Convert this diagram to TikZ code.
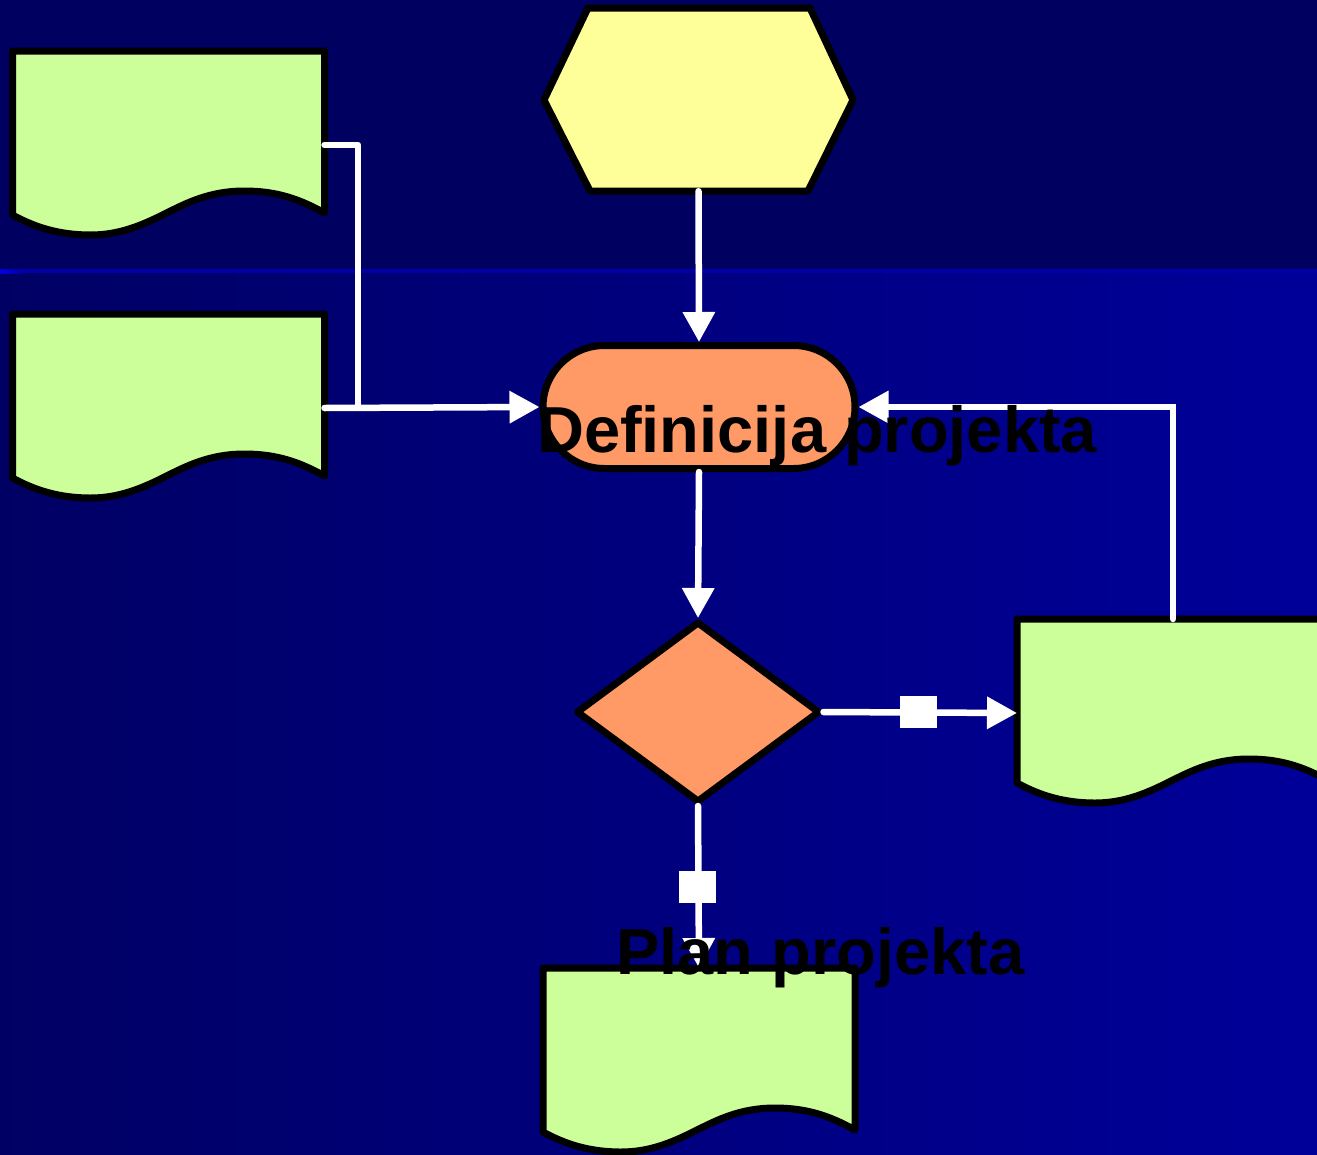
\documentclass[tikz,border=0pt]{standalone}
\usepackage{fontspec}
\setmainfont{Liberation Sans}
\usetikzlibrary{arrows.meta,shapes.geometric,shapes.misc}
\definecolor{bgtop}{HTML}{000060}
\definecolor{bgleft}{HTML}{000064}
\definecolor{bgright}{HTML}{000099}
\definecolor{bandline}{HTML}{0000A6}
\definecolor{docgreen}{HTML}{CCFF99}
\definecolor{hexyellow}{HTML}{FFFF99}
\definecolor{salmon}{HTML}{FF9966}
\tikzset{
  shapeline/.style={draw=black, line width=7pt, line join=round},
  docanchor/.style={inner sep=0pt, outer sep=0pt, minimum width=312pt, minimum height=188pt, anchor=north west},
  conn/.style={draw=white, line width=6.5pt, line cap=round},
  arr/.style={-{Triangle[length=30pt,width=31pt]}},
  marker/.style={fill=white, draw=none, inner sep=0pt, minimum width=37pt, minimum height=32pt},
  lbl/.style={inner sep=0pt, anchor=base west, font=\bfseries\fontsize{65}{70}\selectfont, text=black}
}
\newcommand{\docshape}[1]{%
  \path[shapeline, fill=docgreen, shift={(#1.north west)}]
    (0,0) -- (312,0) -- (312,162)
    .. controls (287,148) and (264,140) .. (232,140)
    .. controls (197,140) and (174,152) .. (152,163)
    .. controls (128,175) and (106,184) .. (78,184)
    .. controls (46,184) and (22,176) .. (0,164) -- cycle;}
\begin{document}
\begin{tikzpicture}[x=1pt,y=-1pt]
\clip (0,0) rectangle (1317,1154);
% background
\fill[bgtop] (0,0) rectangle (1317,270);
\fill[left color=bgleft, right color=bgright] (0,273) rectangle (1317,1154);
\fill[bandline] (0,269) rectangle (1317,273);
\fill[left color=blue!60!bandline, right color=bandline] (0,269) rectangle (22,273);

% anchor nodes
\node[docanchor] (d1) at (12.5,51) {};
\node[docanchor] (d2) at (12.5,314) {};
\node[docanchor] (d3) at (1017,619) {};
\node[docanchor] (d4) at (543,968) {};
\node[inner sep=0pt, minimum width=309pt, minimum height=183pt] (hex) at (698.5,99.5) {};

% shapes
\docshape{d1}
\docshape{d2}
\docshape{d3}
\docshape{d4}
\path[shapeline, fill=hexyellow] (588,8) -- (810,8) -- (853,100) -- (808,191) -- (590,191) -- (544,100) -- cycle;
\node[rounded rectangle, shapeline, fill=salmon, inner sep=0pt, minimum width=312pt, minimum height=123pt] (term) at (699,407) {};
\node[diamond, shapeline, fill=salmon, inner sep=0pt, minimum width=244pt, minimum height=181pt] (dia) at (698,712) {};

% connectors
\coordinate (jn) at (358,407);
\draw[conn, arr] (hex.south) -- (term.north);
\draw[conn, line join=round] (d1.east) -| (jn);
\draw[conn, arr] (d2.east) -- (term.west);
\draw[conn, arr] (term.south) -- (dia.north);
\draw[conn, arr] (dia.east) -- (d3.west);
\draw[conn, arr] (dia.south) -- (d4.north);
\draw[conn, arr] (d3.north) |- (term.east);
\node[marker] (sq1) at (918.5,712) {};
\node[marker] (sq2) at (697.5,887) {};

% labels
\node[lbl] (t1) at (537,452) {Definicija projekta};
\node[lbl] (t2) at (616,974) {Plan projekta};
\end{tikzpicture}
\end{document}
